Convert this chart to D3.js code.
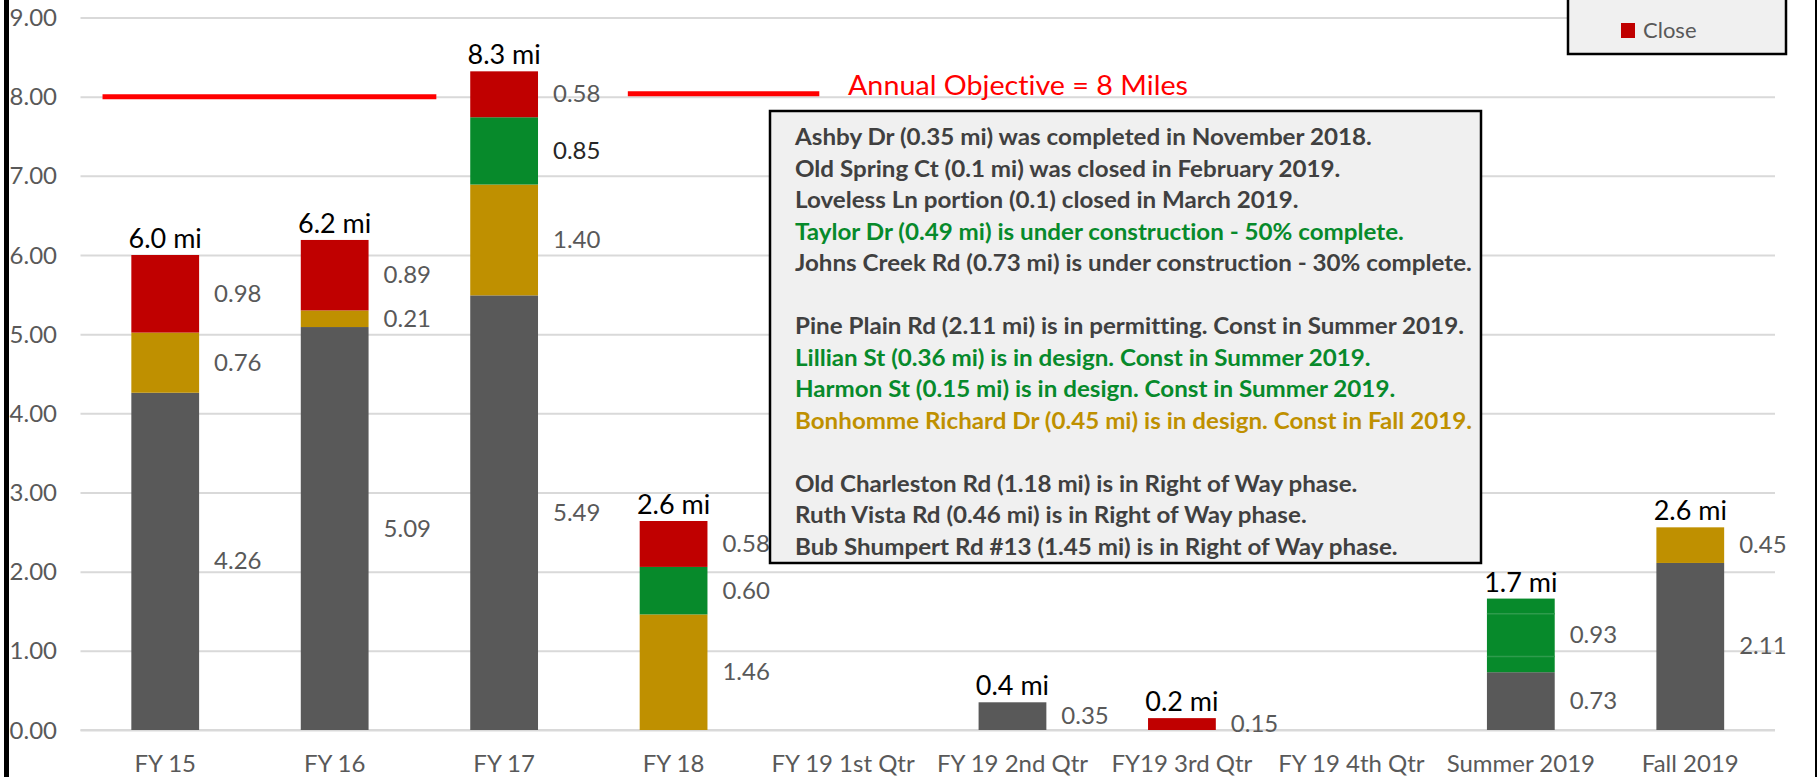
<!DOCTYPE html>
<html><head><meta charset="utf-8">
<script src="https://cdn.jsdelivr.net/npm/d3@7"></script>
<style>html,body{margin:0;padding:0;background:#fff;overflow:hidden} svg text{font-variant-ligatures:none;font-feature-settings:"liga" 0,"clig" 0}</style>
</head><body><svg id="c" width="1818" height="777"></svg>
<script>
// ---------- data ----------
const categories = ["FY 15","FY 16","FY 17","FY 18","FY 19 1st Qtr","FY 19 2nd Qtr","FY19 3rd Qtr","FY 19 4th Qtr","Summer 2019","Fall 2019"];
const completed    = [4.26, 5.09, 5.49, 0,    0, 0.35, 0,    0, 0.73, 2.11];
const design       = [0.76, 0.21, 1.40, 1.46, 0, 0,    0,    0, 0,    0.45];
const construction = [0,    0,    0.85, 0.60, 0, 0,    0,    0, 0.93, 0];
const closeMiles   = [0.98, 0.89, 0.58, 0.58, 0, 0,    0.15, 0, 0,    0];
const summerGreenParts = [0.20, 0.54, 0.19];
const yTicks = [0,1,2,3,4,5,6,7,8,9];
const objective = 8;
const objectiveLabel = "Annual Objective = 8 Miles";
const legendItems = ["Close"];
const notes = [
  {text:"Ashby Dr (0.35 mi) was completed in November 2018.", kind:"done"},
  {text:"Old Spring Ct (0.1 mi) was closed in February 2019.", kind:"done"},
  {text:"Loveless Ln portion (0.1) closed in March 2019.", kind:"done"},
  {text:"Taylor Dr (0.49 mi) is under construction - 50% complete.", kind:"construction"},
  {text:"Johns Creek Rd (0.73 mi) is under construction - 30% complete.", kind:"done"},
  {text:"", kind:"done"},
  {text:"Pine Plain Rd (2.11 mi) is in permitting. Const in Summer 2019.", kind:"done"},
  {text:"Lillian St (0.36 mi) is in design. Const in Summer 2019.", kind:"construction"},
  {text:"Harmon St (0.15 mi) is in design. Const in Summer 2019.", kind:"construction"},
  {text:"Bonhomme Richard Dr (0.45 mi) is in design. Const in Fall 2019.", kind:"design"},
  {text:"", kind:"done"},
  {text:"Old Charleston Rd (1.18 mi) is in Right of Way phase.", kind:"done"},
  {text:"Ruth Vista Rd (0.46 mi) is in Right of Way phase.", kind:"done"},
  {text:"Bub Shumpert Rd #13 (1.45 mi) is in Right of Way phase.", kind:"done"}
];

// ---------- styles ----------
const FONT = "Lato, 'Open Sans', sans-serif";
const colors = {completed:"#595959", design:"#BF9000", construction:"#078A2B", close:"#C00000"};
const noteColors = {done:"#404040", construction:"#078A2B", design:"#BF9000"};
const axisGray = "#595959", gridGray = "#D9D9D9";

const svg = d3.select("#c");
const W = 1818, H = 777;
const plot = {left:80.5, right:1775, top:17.5, bottom:730};

const x = d3.scaleBand().domain(categories).range([plot.left, plot.right]).paddingInner(0.6).paddingOuter(0.3);
const y = d3.scaleLinear().domain([0, 9]).range([plot.bottom, plot.top]);

// gridlines
const grid = svg.append("g").attr("transform", `translate(${plot.left},0)`)
  .call(d3.axisLeft(y).tickValues(yTicks).tickSize(-(plot.right - plot.left)).tickFormat(""));
grid.select(".domain").remove();
grid.selectAll("line").attr("stroke", gridGray).attr("stroke-width", 2);

// y labels
const ya = svg.append("g").attr("transform", `translate(57,0)`)
  .call(d3.axisLeft(y).tickValues(yTicks).tickSize(0).tickPadding(0).tickFormat(d3.format(".2f")));
ya.select(".domain").remove();
ya.selectAll("text").attr("font-family", FONT).attr("font-size", 24).attr("fill", axisGray)
  .attr("dy", null).attr("y", 8).attr("text-anchor", "end");

// x axis
const xa = svg.append("g").attr("transform", `translate(0,${plot.bottom})`)
  .call(d3.axisBottom(x).tickSize(0).tickPadding(0));
xa.select(".domain").attr("stroke", gridGray).attr("stroke-width", 2)
  .attr("d", `M${plot.left},0H${plot.right}`);
xa.selectAll("text").attr("font-family", FONT).attr("font-size", 24).attr("fill", axisGray)
  .attr("dy", null).attr("y", 42);

// stacked bars
const keys = ["completed","design","construction","close"];
const rows = categories.map((c, i) => ({cat:c, completed:completed[i], design:design[i], construction:construction[i], close:closeMiles[i]}));
const series = d3.stack().keys(keys)(rows);
const bars = svg.append("g");
series.forEach(s => {
  bars.selectAll(null).data(s.filter(d => d[1] - d[0] > 0)).join("rect")
    .attr("x", d => x(d.data.cat)).attr("width", x.bandwidth())
    .attr("y", d => y(d[1])).attr("height", d => y(d[0]) - y(d[1]))
    .attr("fill", colors[s.key]);
});
// faint separators inside the Summer 2019 green segment
const summerBase = completed[8];
const partTops = d3.cumsum(summerGreenParts).slice(0, -1);
bars.selectAll(null).data(partTops).join("line")
  .attr("x1", x("Summer 2019")).attr("x2", x("Summer 2019") + x.bandwidth())
  .attr("y1", d => y(summerBase + d)).attr("y2", d => y(summerBase + d))
  .attr("stroke", "#2E9B4C").attr("stroke-width", 1.5);

// value labels
const labels = svg.append("g");
series.forEach(s => {
  labels.selectAll(null).data(s.filter(d => d[1] - d[0] > 0)).join("text")
    .attr("x", d => x(d.data.cat) + x.bandwidth() + 15)
    .attr("y", d => y((d[0] + d[1]) / 2) + 8)
    .attr("font-family", FONT).attr("font-size", 24)
    .attr("fill", d => (s.key === "construction" && d.data.cat === "FY 17") ? "#262626" : axisGray)
    .text(d => (d[1] - d[0]).toFixed(2));
});

// totals
const totals = rows.map(r => ({cat:r.cat, total:r.completed + r.design + r.construction + r.close}));
labels.selectAll(null).data(totals.filter(d => d.total > 0)).join("text")
  .attr("x", d => x(d.cat) + x.bandwidth() / 2)
  .attr("y", d => y(d.total) - 7)
  .attr("text-anchor", "middle").attr("font-family", FONT).attr("font-size", 27).attr("fill", "#000")
  .text(d => (Math.round(d.total * 10) / 10).toFixed(1) + " mi");

// annual objective lines
const step = x.step();
const objSegs = [[0.13, 2.10, 0], [3.23, 4.36, -3]];
svg.append("g").selectAll("line").data(objSegs).join("line")
  .attr("x1", d => plot.left + d[0] * step).attr("x2", d => plot.left + d[1] * step)
  .attr("y1", d => y(objective) + d[2]).attr("y2", d => y(objective) + d[2])
  .attr("stroke", "#FF0000").attr("stroke-width", 5);
svg.append("text").attr("x", 848).attr("y", 95)
  .attr("font-family", FONT).attr("font-size", 27).attr("fill", "#FF0000")
  .attr("textLength", 340).attr("lengthAdjust", "spacingAndGlyphs")
  .text(objectiveLabel);

// annotation box
svg.append("rect").attr("x", 770).attr("y", 111).attr("width", 711).attr("height", 452)
  .attr("fill", "#F0F0F0").attr("stroke", "#000").attr("stroke-width", 2.5);
const noteG = svg.append("g");
const nt = noteG.selectAll("text").data(notes).join("text")
  .attr("x", 795).attr("y", (d, i) => 145 + i * 31.5)
  .attr("font-family", FONT).attr("font-weight", 700).attr("font-size", 23.5)
  .attr("fill", d => noteColors[d.kind]).text(d => d.text);
let maxW = 0;
nt.each(function(){ maxW = Math.max(maxW, this.getComputedTextLength()); });
const fit = 677 / maxW;
nt.each(function(){
  const w = this.getComputedTextLength();
  if (w > 0) d3.select(this).attr("textLength", w * fit).attr("lengthAdjust", "spacingAndGlyphs");
});

// legend (partially visible)
svg.append("rect").attr("x", 1568).attr("y", -30).attr("width", 218).attr("height", 84)
  .attr("fill", "#F0F0F0").attr("stroke", "#000").attr("stroke-width", 2.5);
const lg = svg.append("g").selectAll("g").data(legendItems).join("g");
lg.append("rect").attr("x", 1621).attr("y", 23).attr("width", 14).attr("height", 15).attr("fill", colors.close);
lg.append("text").attr("x", 1643).attr("y", 38).attr("font-family", FONT).attr("font-size", 22)
  .attr("fill", axisGray).text(d => d);

// frame edges
svg.append("rect").attr("x", 4).attr("y", 0).attr("width", 5).attr("height", H).attr("fill", "#000");
svg.append("rect").attr("x", 1815).attr("y", 0).attr("width", 2).attr("height", H).attr("fill", "#000");
</script></body></html>
